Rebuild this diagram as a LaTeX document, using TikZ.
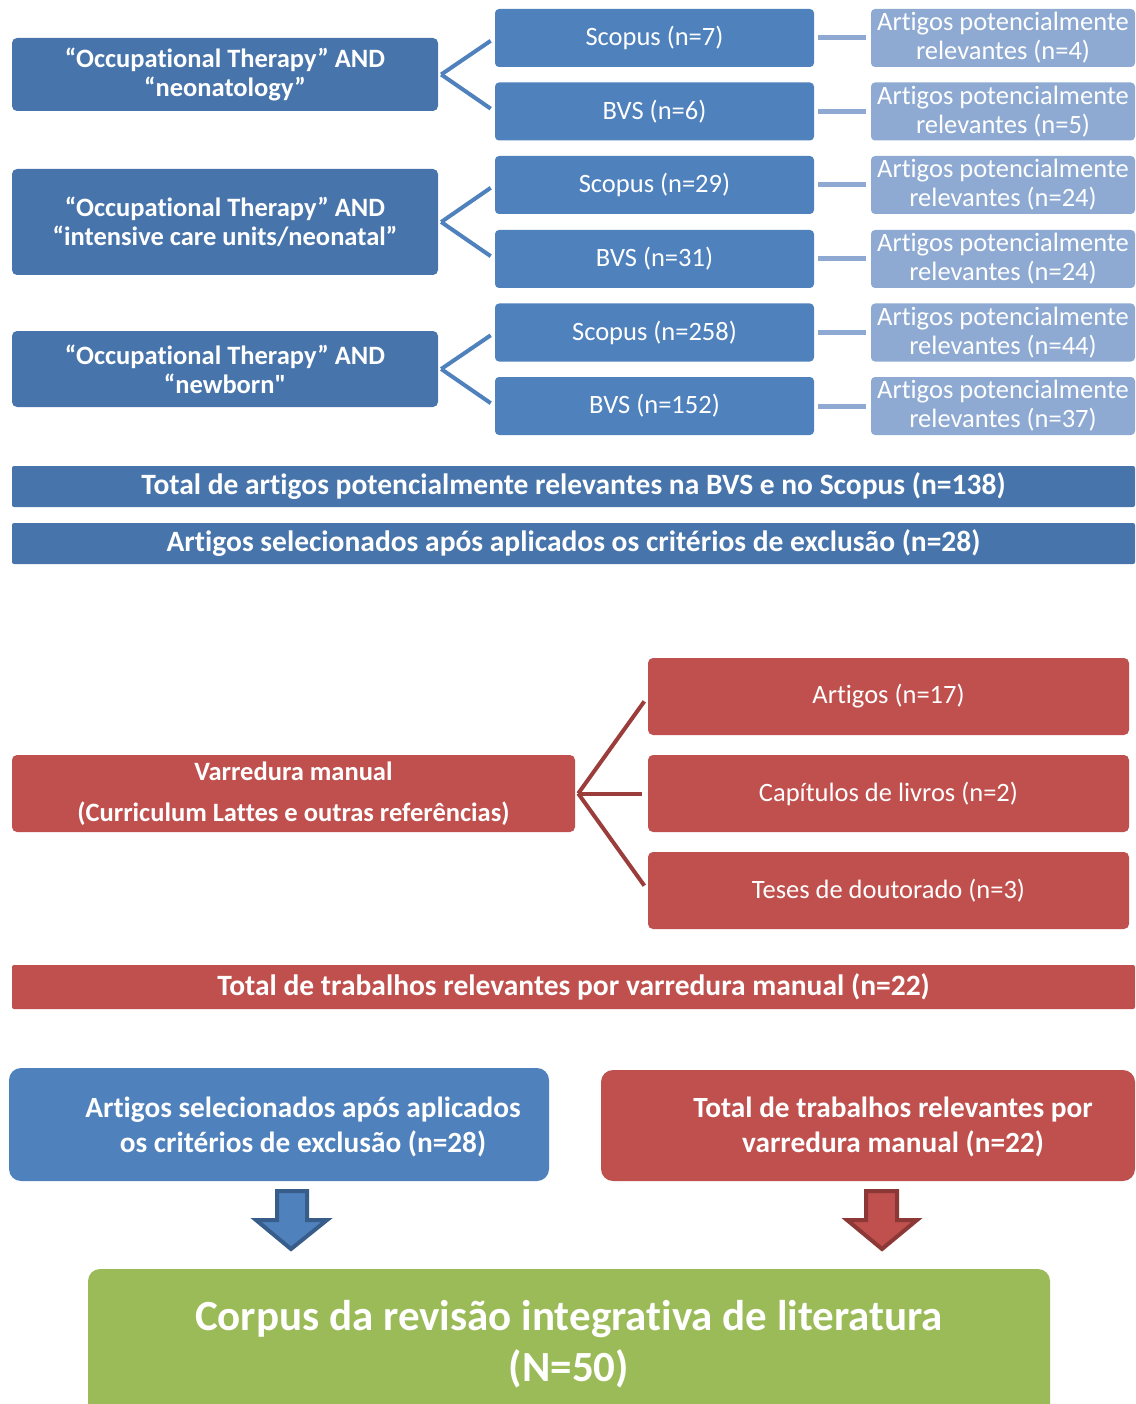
\documentclass[tikz,border=0pt]{standalone}
\usepackage{fontspec}
\setmainfont{Carlito}[Ligatures={TeX,NoCommon}]
\definecolor{qblue}{HTML}{4774AA}
\definecolor{dblue}{HTML}{4F81BD}
\definecolor{lblue}{HTML}{8EAAD2}
\definecolor{ablue}{HTML}{385D8A}
\definecolor{mred}{HTML}{C0504D}
\definecolor{dred}{HTML}{9B3D3B}
\definecolor{ared}{HTML}{8C3836}
\definecolor{cgreen}{HTML}{9BBB59}

\begin{document}
\begin{tikzpicture}
[x=1pt, y=-1pt, text=white, inner sep=0pt,
query/.style={fill=qblue, rounded corners=5pt, minimum width=426pt, align=center, font=\fontsize{26.5}{29}\selectfont\bfseries},
base/.style={fill=dblue, rounded corners=4pt, minimum width=319pt, minimum height=58pt, font=\fontsize{26.5}{29}\selectfont},
hits/.style={fill=lblue, rounded corners=4pt, minimum width=264pt, minimum height=58pt, align=center, font=\fontsize{26.5}{29}\selectfont},
bar/.style={fill=qblue, rounded corners=2pt, minimum width=1123pt, minimum height=41pt, font=\fontsize{29.5}{32}\selectfont\bfseries},
kind/.style={fill=mred, rounded corners=5pt, minimum width=481pt, minimum height=77pt, font=\fontsize{26.5}{29}\selectfont},
pool/.style={rounded corners=12pt, minimum height=112pt},
pooltext/.style={text=white, align=center, font=\fontsize{29.3}{35}\selectfont\bfseries},
branch/.style={line width=4pt, draw=dblue, shorten >=5pt},
rbranch/.style={line width=4pt, draw=dred, shorten >=6pt},
link/.style={line width=5pt, draw=lblue, shorten <=4pt, shorten >=5pt},
blockarrow/.style={line width=4pt, line join=miter}]

\useasboundingbox (0,0) rectangle (1135,1404);

\node[query, minimum height=73pt] (query1) at (225,74.5) {“Occupational Therapy” AND\\“neonatology”};
\node[query, minimum height=106pt] (query2) at (225,222) {“Occupational Therapy” AND\\“intensive care units/neonatal”};
\node[query, minimum height=76pt] (query3) at (225,369) {“Occupational Therapy” AND\\“newborn{\addfontfeatures{Ligatures=TeXOff}"}};

\foreach \r/\y/\db/\n/\m in {1/38/Scopus/7/4, 2/111.5/BVS/6/5, 3/185/Scopus/29/24,
                              4/259/BVS/31/24, 5/332.5/Scopus/258/44, 6/406/BVS/152/37} {
    \node[base] (base\r) at (654.5,\y) {\db\ (n=\n)};
    \node[hits] (hits\r) at (1003,\y) {Artigos potencialmente\\relevantes (n=\m)};
    \draw[link] (base\r) -- (hits\r);
}

\foreach \q/\a/\b in {1/1/2, 2/3/4, 3/5/6} {
    \coordinate (split\q) at ([xshift=3pt]query\q.east);
    \draw[branch] (split\q) -- (base\a.west);
    \draw[branch] (split\q) -- (base\b.west);
}

\node[bar] (total) at (573.5,486.5) {Total de artigos potencialmente relevantes na BVS e no Scopus (n=138)};
\node[bar] (selected) at (573.5,543.5) {Artigos selecionados após aplicados os critérios de exclusão (n=28)};

\node[kind, minimum width=563pt, align=center, font=\fontsize{26.5}{41}\selectfont\bfseries] (manual) at (293.5,793.5)
    {Varredura manual\\(Curriculum Lattes e outras referências)};
\coordinate (rsplit) at ([xshift=3pt]manual.east);
\foreach \k/\y/\txt in {1/696.5/Artigos (n=17), 2/793.5/Capítulos de livros (n=2), 3/890.5/Teses de doutorado (n=3)} {
    \node[kind] (kind\k) at (888.5,\y) {\txt};
    \draw[rbranch] (rsplit) -- (kind\k.west);
}

\node[bar, fill=mred, minimum height=44pt] (manualtotal) at (573.5,987) {Total de trabalhos relevantes por varredura manual (n=22)};

\node[pool, fill=dblue, minimum width=540pt, minimum height=113pt,
    label={[pooltext, xshift=24pt, yshift=-2pt]center:Artigos selecionados após aplicados\\os critérios de exclusão (n=28)}] (picked) at (279,1124.5) {};
\node[pool, fill=mred, minimum width=534pt, minimum height=111pt,
    label={[pooltext, xshift=25pt, yshift=-1pt]center:Total de trabalhos relevantes por\\varredura manual (n=22)}] (found) at (868,1125.5) {};

\draw[blockarrow, fill=dblue, draw=ablue] (277,1191) -- (307,1191) -- (307,1220) -- (327,1220)
    -- (291,1249) -- (256,1220) -- (277,1220) -- cycle;
\draw[blockarrow, fill=mred, draw=ared] (866,1191) -- (897,1191) -- (897,1220) -- (917,1220)
    -- (882,1249) -- (847,1220) -- (866,1220) -- cycle;

\node[fill=cgreen, rounded corners=12pt, minimum width=962pt, minimum height=150pt, align=center,
    font=\fontsize{43}{51}\selectfont\bfseries] (corpus) at (569,1344)
    {Corpus da revisão integrativa de literatura\\(N=50)};

\end{tikzpicture}
\end{document}
